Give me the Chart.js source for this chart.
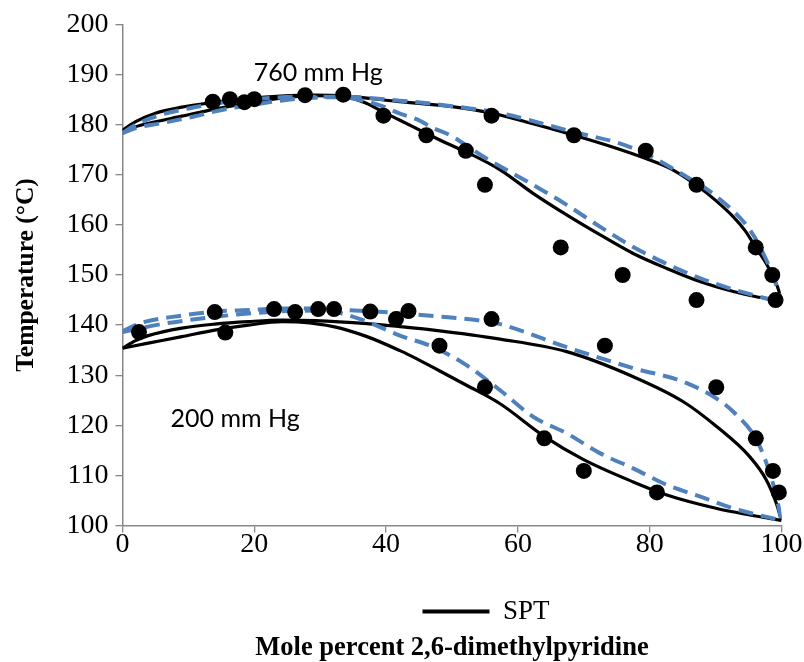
<!DOCTYPE html>
<html>
<head>
<meta charset="utf-8">
<title>T-x-y diagram, 2,6-dimethylpyridine</title>
<script src="https://cdn.jsdelivr.net/npm/chart.js@4.4.1/dist/chart.umd.min.js"></script>
<style>
  body { margin: 0; background: #fff; }
  canvas { display: block; }
</style>
</head>
<body>
<canvas id="vleChart" width="804" height="662"></canvas>
<script>
// Experimental boiling points [mole %, °C]
const exp760 = [[13.7, 184.6], [16.3, 185.1], [18.5, 184.5], [20.0, 185.1], [27.7, 185.9], [33.5, 186.0],
  [39.6, 181.8], [46.1, 177.9], [52.1, 174.8], [55.0, 168.0], [56.0, 181.8], [66.5, 155.5], [68.5, 177.9],
  [75.9, 150.0], [79.4, 174.8], [87.1, 168.0], [87.1, 145.0], [96.1, 155.5], [98.6, 150.0], [99.1, 145.0]];
const exp200 = [[2.5, 138.6], [14.0, 142.6], [15.6, 138.5], [23.0, 143.2], [26.2, 142.6], [29.7, 143.2],
  [32.1, 143.2], [37.6, 142.7], [41.5, 141.2], [43.4, 142.8], [48.1, 135.9], [55.0, 127.6], [56.0, 141.2],
  [64.0, 117.4], [70.0, 110.9], [73.2, 135.9], [81.1, 106.6], [90.1, 127.6], [96.1, 117.4], [98.7, 110.9],
  [99.6, 106.6]];

// SPT model curves (solid black)
const spt760Upper = [[0, 178.9], [2, 180.6], [5, 182.3], [9, 183.5], [13, 184.3], [19, 185.2], [24, 185.7],
  [29, 185.9], [34, 185.7], [42, 184.6], [50, 183.6], [56, 182.3], [62, 180.3], [68.5, 177.9], [74, 175.7],
  [79.5, 173.2], [83.5, 171.0], [87, 168.0], [90, 164.9], [92.7, 161.6], [94.5, 158.8], [96.1, 155.5],
  [97.5, 152.7], [98.6, 150.0], [99.4, 147.6], [100, 145.0]];
const spt760Lower = [[0, 178.9], [4, 180.3], [9, 181.7], [14, 183.1], [19, 184.3], [24, 185.3], [29, 185.8],
  [33.5, 185.6], [37, 184.3], [39.6, 182.5], [42.1, 180.9], [46.2, 178.2], [49.2, 176.3], [52.1, 174.6],
  [57.3, 171.0], [62.3, 166.3], [67.4, 162.0], [72.5, 158.0], [77.5, 154.3], [82.6, 151.3], [87.6, 148.7],
  [92.7, 146.7], [96, 145.7], [100, 144.8]];
const spt200Upper = [[0, 135.4], [2, 136.9], [3.9, 137.9], [9, 139.4], [14, 140.2], [19.1, 140.7], [24.2, 141.0],
  [29.2, 140.9], [37.1, 140.3], [42.1, 139.7], [47.2, 139.0], [57.3, 137.2], [67.4, 134.7], [77.5, 129.7],
  [85.1, 124.7], [90.2, 119.7], [95.2, 113.7], [97.7, 109.1], [99.2, 104.5], [100, 101.0]];
const spt200Lower = [[0, 135.4], [3.9, 136.4], [9, 137.7], [14, 139.0], [19.1, 140.0], [24.2, 140.7],
  [27, 140.6], [32, 139.7], [37.1, 137.7], [42.1, 134.9], [44.6, 133.3], [47.2, 131.5], [52.2, 128.0],
  [57.3, 124.3], [64, 117.8], [69.9, 113.2], [77.5, 108.7], [82.6, 106.1], [90.2, 103.4], [95.2, 102.1],
  [100, 101.0]];

// Second model (blue dashed)
const alt760Upper = [[0, 178.3], [2, 180.0], [5.4, 181.8], [10.2, 183.3], [15, 184.4], [20, 185.1], [27, 185.6],
  [33, 185.6], [42.1, 184.8], [50, 183.7], [57.3, 182.3], [67.4, 178.9], [77.5, 175.3], [85.1, 170.0],
  [90.2, 165.6], [95.2, 159.0], [97.7, 153.0], [99.2, 148.0], [100, 144.5]];
const alt760Lower = [[0, 178.3], [1.9, 179.3], [5.9, 180.3], [10.7, 181.6], [15.6, 183.1], [20, 184.0],
  [24, 184.8], [29, 185.4], [33, 185.5], [36.5, 184.8], [39.6, 183.6], [42.1, 182.2], [44.6, 181.1],
  [47.2, 179.3], [49.7, 177.9], [54.8, 173.6], [62.3, 168.0], [67.4, 164.0], [72.5, 159.6], [77.5, 155.6],
  [82.6, 152.2], [87.6, 149.4], [92.7, 147.1], [97.7, 145.3], [100, 144.5]];
const alt200Upper = [[0, 138.8], [3, 140.5], [9, 141.9], [14, 142.7], [19.1, 143.0], [24.2, 143.3], [29, 143.3],
  [32, 143.1], [39.6, 142.6], [47.2, 141.8], [54.8, 140.8], [57.3, 140.2], [67.4, 135.6], [77.5, 131.4],
  [85.1, 128.7], [90.2, 125.3], [93, 122.3], [96.1, 117.4], [97.7, 112.5], [99, 107.0], [100, 101.0]];
const alt200Lower = [[0, 138.6], [5, 140.0], [10, 141.0], [15, 141.8], [20, 142.4], [25, 142.8], [30, 142.9],
  [33, 142.4], [37.3, 140.6], [42.1, 137.9], [47.2, 135.6], [52.2, 132.0], [57.3, 127.0], [62.3, 121.7],
  [67.4, 118.4], [72.5, 114.4], [77.5, 111.4], [82.6, 108.1], [87.6, 105.8], [92.7, 103.4], [100, 101.0]];

// Pressure labels inside the plot
const labelText = ['760 mm Hg', '200 mm Hg'];
const labelX = [19.9, 7.3];
const labelY = [188.8, 119.7];

const axisGrey = '#878787';
const toXY = pts => pts.map(([x, y]) => ({ x, y }));

function curve(label, pts, dashed) {
  return {
    type: 'line',
    label: label,
    data: toXY(pts),
    borderColor: dashed ? '#4f81bd' : '#000',
    borderWidth: dashed ? 4 : 3.2,
    borderDash: dashed ? [15, 8] : [],
    pointRadius: 0,
    cubicInterpolationMode: 'monotone',
    fill: false,
    order: dashed ? 1 : 2
  };
}

function points(label, pts) {
  return {
    type: 'scatter',
    label: label,
    data: toXY(pts),
    backgroundColor: '#000',
    borderWidth: 0,
    pointRadius: 8,
    clip: false, // dots at x≈100 overhang the plot edge
    order: 0
  };
}

// draws the pressure labels at data coordinates
const pressureLabels = {
  id: 'pressureLabels',
  afterDatasetsDraw(chart) {
    const { ctx, scales: { x, y } } = chart;
    ctx.save();
    ctx.font = '25px Lato';
    ctx.fillStyle = '#000';
    ctx.textAlign = 'left';
    ctx.textBaseline = 'alphabetic';
    labelText.forEach((t, i) => {
      ctx.fillText(t, x.getPixelForValue(labelX[i]), y.getPixelForValue(labelY[i]));
    });
    ctx.restore();
  }
};

// legend sits a little right of the plot centre
const legendShift = {
  id: 'legendShift',
  afterLayout(chart) {
    chart.legend.left += 34;
    chart.legend.right += 34;
  }
};

Chart.defaults.font.family = '"Liberation Serif", "Times New Roman", serif';
Chart.defaults.color = '#000';

new Chart(document.getElementById('vleChart'), {
  data: {
    datasets: [
      curve('SPT', spt760Upper, false),
      curve('SPT 760 lower', spt760Lower, false),
      curve('SPT 200 upper', spt200Upper, false),
      curve('SPT 200 lower', spt200Lower, false),
      curve('Model 760 upper', alt760Upper, true),
      curve('Model 760 lower', alt760Lower, true),
      curve('Model 200 upper', alt200Upper, true),
      curve('Model 200 lower', alt200Lower, true),
      points('760 mm Hg', exp760),
      points('200 mm Hg', exp200)
    ]
  },
  options: {
    responsive: false,
    animation: false,
    events: [],
    layout: { padding: { left: 0, right: 22.5, top: 24.5, bottom: 0.5 } },
    scales: {
      x: {
        type: 'linear', min: 0, max: 100,
        ticks: { stepSize: 20, padding: -2, font: { size: 28, lineHeight: 1 } },
        grid: { drawOnChartArea: false, tickLength: 7, color: axisGrey, lineWidth: 1.3 },
        border: { color: axisGrey, width: 1.5 },
        afterFit: s => { s.height = 45.5; }
      },
      y: {
        type: 'linear', min: 100, max: 200,
        ticks: { stepSize: 10, padding: 7, font: { size: 28 } },
        grid: { drawOnChartArea: false, tickLength: 7, color: axisGrey, lineWidth: 1.3 },
        border: { color: axisGrey, width: 1.5 },
        title: {
          display: true,
          text: 'Temperature (°C)',
          font: { size: 25.5, weight: 'bold' },
          padding: { top: 11, bottom: 0 }
        },
        afterFit: s => { s.width = 122.5; }
      }
    },
    plugins: {
      legend: {
        position: 'bottom',
        fullSize: false,
        labels: {
          boxWidth: 67,
          boxHeight: 4,
          padding: 27,
          font: { size: 27 },
          generateLabels: () => [{
            text: 'SPT', fillStyle: '#000', strokeStyle: '#000', lineWidth: 0, datasetIndex: 0, hidden: false
          }]
        }
      },
      title: {
        display: true,
        position: 'bottom',
        fullSize: false,
        text: 'Mole percent 2,6-dimethylpyridine',
        font: { size: 26.5, weight: 'bold', lineHeight: 1 },
        padding: 0
      },
      tooltip: { enabled: false }
    }
  },
  plugins: [pressureLabels, legendShift]
});
</script>
</body>
</html>
